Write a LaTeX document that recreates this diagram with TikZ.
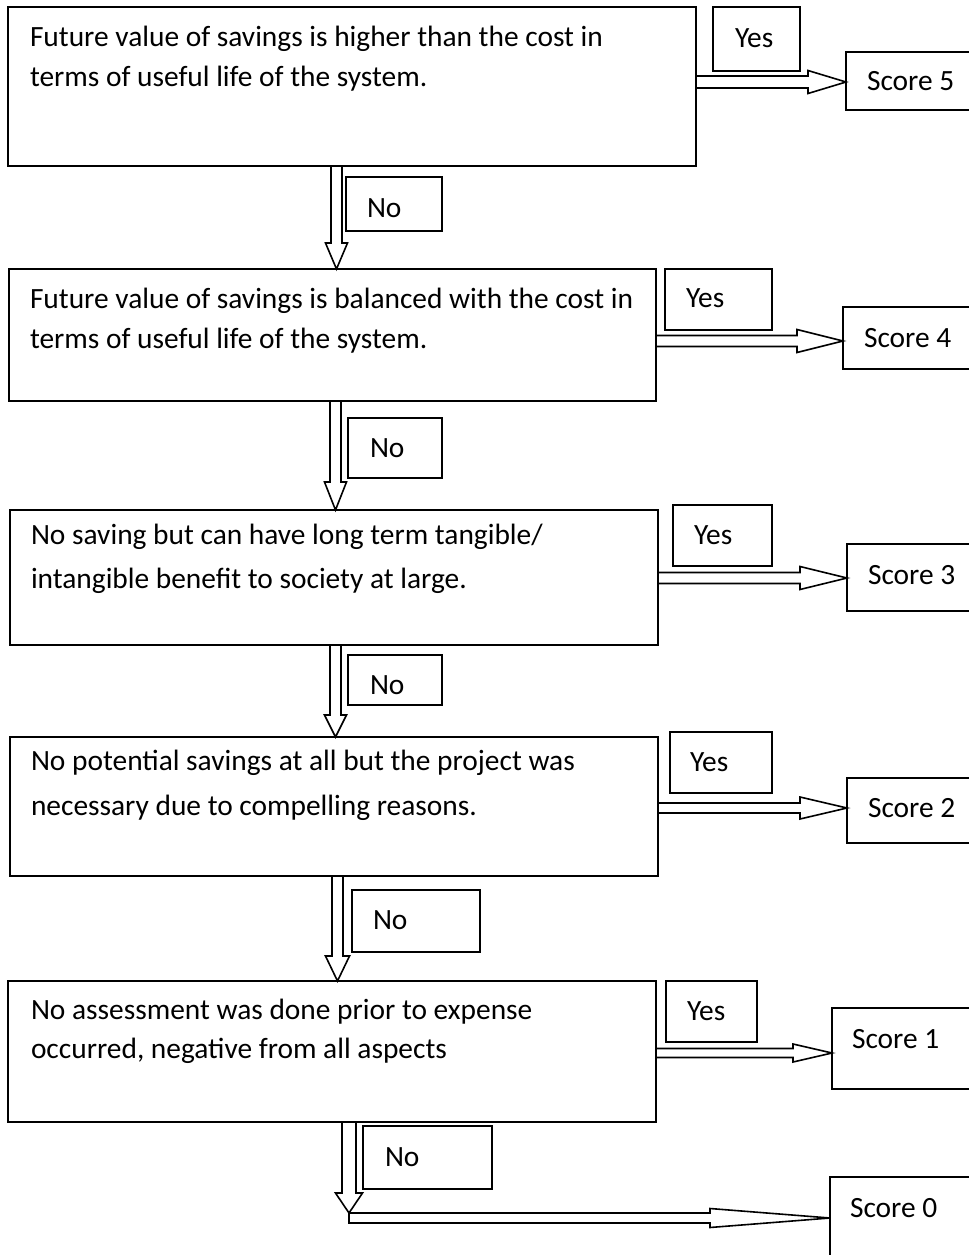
\documentclass[tikz,border=0pt]{standalone}
\usepackage{fontspec}
\setmainfont{Carlito}
\usetikzlibrary{calc}
\tikzset{
  box/.style={draw=black, line width=1.8bp, rectangle, inner sep=0pt, outer sep=0pt, anchor=north west},
  lbl/.style={anchor=base west, inner sep=0pt, outer sep=0pt, font=\fontsize{29.4bp}{35bp}\selectfont},
  blockarrow/.style={draw=black, line width=1.6bp, line join=miter},
}
\newcommand\hblock[5]{\draw[blockarrow] let \p1=(#1), \p2=(#2) in
  (\x1,\y2+#3) -- (\x2-#5,\y2+#3) -- (\x2-#5,\y2+#4) -- (\x2,\y2) -- (\x2-#5,\y2-#4) -- (\x2-#5,\y2-#3) -- (\x1,\y2-#3);}
\newcommand\vblock[5]{\draw[blockarrow] let \p1=(#1), \p2=(#2) in
  (\x2-#3,\y1) -- (\x2-#3,\y2+#5) -- (\x2-#4,\y2+#5) -- (\x2,\y2) -- (\x2+#4,\y2+#5) -- (\x2+#3,\y2+#5) -- (\x2+#3,\y1);}
\begin{document}
\begin{tikzpicture}[x=1bp,y=-1bp]
\useasboundingbox (0,0) rectangle (969,1255);
\clip (0,0) rectangle (969,1255);
% decision boxes
\node[box, minimum width=688bp, minimum height=159bp] (b1) at (8,7) {};
\node[box, minimum width=647bp, minimum height=132bp] (b2) at (9,269) {};
\node[box, minimum width=648bp, minimum height=135bp] (b3) at (10,510) {};
\node[box, minimum width=648bp, minimum height=139bp] (b4) at (10,737) {};
\node[box, minimum width=648bp, minimum height=141bp] (b5) at (8,981) {};
% decision texts
\node[lbl] (t1a) at (30,46) {Future value of savings is higher than the cost in};
\node[lbl] (t1b) at (30,86) {terms of useful life of the system.};
\node[lbl] (t2a) at (30,308) {Future value of savings is balanced with the cost in};
\node[lbl] (t2b) at (30,348) {terms of useful life of the system.};
\node[lbl] (t3a) at (31,544) {No saving but can have long term tangible/};
\node[lbl] (t3b) at (31,588) {intangible benefit to society at large.};
\node[lbl] (t4a) at (31,770) {No potential savings at all but the project was};
\node[lbl] (t4b) at (31,815) {necessary due to compelling reasons.};
\node[lbl] (t5a) at (31,1019) {No assessment was done prior to expense};
\node[lbl] (t5b) at (31,1058) {occurred, negative from all aspects};
% Yes boxes
\node[box, minimum width=87bp, minimum height=64bp] (y1) at (713,7) {};
\node[box, minimum width=107bp, minimum height=61bp] (y2) at (665,269) {};
\node[box, minimum width=99bp, minimum height=61bp] (y3) at (673,505) {};
\node[box, minimum width=102bp, minimum height=61bp] (y4) at (670,732) {};
\node[box, minimum width=91bp, minimum height=61bp] (y5) at (666,981) {};
\node[lbl] (yt1) at (735,47) {Yes};
\node[lbl] (yt2) at (686,307) {Yes};
\node[lbl] (yt3) at (694,544) {Yes};
\node[lbl] (yt4) at (690,771) {Yes};
\node[lbl] (yt5) at (687,1020) {Yes};
% Score boxes
\node[box, minimum width=150bp, minimum height=58bp] (s5) at (846,52) {};
\node[box, minimum width=150bp, minimum height=62bp] (s4) at (843,307) {};
\node[box, minimum width=150bp, minimum height=67bp] (s3) at (847,544) {};
\node[box, minimum width=150bp, minimum height=65bp] (s2) at (847,778) {};
\node[box, minimum width=150bp, minimum height=81bp] (s1) at (832,1008) {};
\node[box, minimum width=150bp, minimum height=100bp] (s0) at (830,1177) {};
\node[lbl] (st5) at (867,90) {Score 5};
\node[lbl] (st4) at (864,347) {Score 4};
\node[lbl] (st3) at (868,584) {Score 3};
\node[lbl] (st2) at (868,817) {Score 2};
\node[lbl] (st1) at (852,1048) {Score 1};
\node[lbl] (st0) at (850,1217) {Score 0};
% No boxes
\node[box, minimum width=96bp, minimum height=54bp] (n1) at (346,177) {};
\node[box, minimum width=94bp, minimum height=60bp] (n2) at (348,418) {};
\node[box, minimum width=94bp, minimum height=50bp] (n3) at (348,655) {};
\node[box, minimum width=128bp, minimum height=62bp] (n4) at (352,890) {};
\node[box, minimum width=129bp, minimum height=63bp] (n5) at (363,1126) {};
\node[lbl] (nt1) at (367,217) {No};
\node[lbl] (nt2) at (370,457) {No};
\node[lbl] (nt3) at (370,694) {No};
\node[lbl] (nt4) at (373,929) {No};
\node[lbl] (nt5) at (385,1166) {No};
% Yes arrows
\hblock{b1.east}{$(s5.north west)+(0,30)$}{6bp}{11.5bp}{38bp}
\hblock{b2.east}{$(s4.north west)+(0,34)$}{5.5bp}{11.5bp}{46bp}
\hblock{b3.east}{$(s3.north west)+(0,34)$}{5.5bp}{11.5bp}{47bp}
\hblock{b4.east}{$(s2.north west)+(0,30)$}{5bp}{11bp}{47bp}
\hblock{b5.east}{$(s1.north west)+(0,45)$}{4.5bp}{9bp}{39bp}
% No arrows
\coordinate (d1) at (336.5,0);
\coordinate (d2) at (335.5,0);
\coordinate (d3) at (335.5,0);
\coordinate (d4) at (337.5,0);
\coordinate (j) at (349,1218);
\vblock{d1 |- b1.south}{d1 |- b2.north}{5.5bp}{11bp}{26bp}
\vblock{d2 |- b2.south}{d2 |- b3.north}{5.5bp}{11bp}{28bp}
\vblock{d3 |- b3.south}{d3 |- b4.north}{5.5bp}{11bp}{22bp}
\vblock{d4 |- b4.south}{d4 |- b5.north}{5.5bp}{12bp}{25bp}
\vblock{j |- b5.south}{$(j)+(0,-5)$}{7bp}{13.5bp}{20bp}
% final arrow to Score 0
\draw[blockarrow] let \p1=(j), \p2=($(s0.north west)+(0,41)$) in
  (\x1,\y2+5bp) -- (\x2-120bp,\y2+5bp) -- (\x2-120bp,\y2+9.5bp) -- (\x2,\y2)
  -- (\x2-120bp,\y2-9.5bp) -- (\x2-120bp,\y2-5bp) -- (\x1,\y2-5bp) -- cycle;
\end{tikzpicture}
\end{document}
